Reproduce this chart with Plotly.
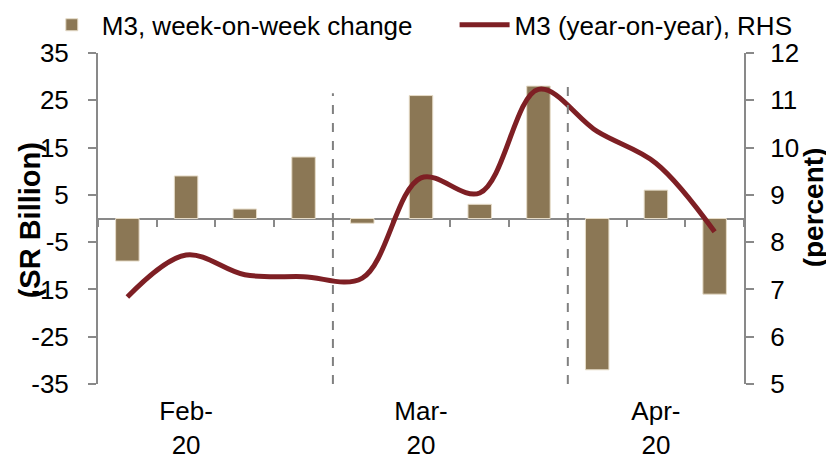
import plotly.graph_objects as go

# weekly observations, Feb-20 .. Apr-20
weeks = list(range(1, 12))
wow_change = [-9, 9, 2, 13, -1, 26, 3, 28, -32, 6, -16]          # SR billion
yoy_growth = [6.84, 7.73, 7.31, 7.27, 7.24, 9.36, 9.04, 11.23, 10.34, 9.67, 8.22]  # percent

month_ticks = [2, 6, 10]
month_labels = ["Feb-<br>20", "Mar-<br>20", "Apr-<br>20"]
month_breaks = [4.5, 8.5]
break_tops = [26.5, 28.2]

left_ticks = list(range(-35, 36, 10))
right_ticks = list(range(5, 13))

BAR = "#8B7755"
LINE = "#7E1F24"
AXIS = "#898989"
FONT = "Liberation Sans, Arial, sans-serif"

fig = go.Figure()

fig.add_trace(go.Bar(
    x=weeks, y=wow_change,
    name="M3, week-on-week change",
    marker=dict(color=BAR, line=dict(color="#E6DCC8", width=1)),
    width=0.4,
    legend="legend",
))

fig.add_trace(go.Scatter(
    x=weeks, y=yoy_growth,
    name="M3 (year-on-year), RHS",
    yaxis="y2",
    mode="lines",
    line=dict(color=LINE, width=5, shape="spline", smoothing=1),
    legend="legend2",
))

# helper trace so the zero-line category axis gets drawn
fig.add_trace(go.Scatter(
    x=[weeks[0]], y=[0], xaxis="x2", mode="markers",
    marker=dict(opacity=0), showlegend=False, hoverinfo="skip",
))

for xb, top in zip(month_breaks, break_tops):
    fig.add_shape(type="line", xref="x", yref="y",
                  x0=xb, x1=xb, y0=-35, y1=top,
                  line=dict(color="#808080", width=2, dash="dash"))

fig.add_annotation(text="<b>(SR Billion)</b>", textangle=-90,
                   xref="paper", yref="paper", x=-0.105, y=0.495,
                   xanchor="center", yanchor="middle",
                   showarrow=False, font=dict(size=29, color="black"))
fig.add_annotation(text="<b>(percent)</b>", textangle=-90,
                   xref="paper", yref="paper", x=1.108, y=0.533,
                   xanchor="center", yanchor="middle",
                   showarrow=False, font=dict(size=28, color="black"))

legend_style = dict(orientation="h", xanchor="left", y=1.085, yanchor="middle",
                    itemwidth=50, font=dict(size=26), bgcolor="rgba(0,0,0,0)")

# the page body has an 8px margin, so the figure is sized to fit the window
fig.update_layout(
    width=826, height=451,
    margin=dict(l=90, r=90, t=45, b=75, autoexpand=False),
    paper_bgcolor="white", plot_bgcolor="white",
    font=dict(family=FONT, size=26, color="black"),
    showlegend=True,
    legend=dict(x=-0.087, **legend_style),
    legend2=dict(x=0.552, **legend_style),
    xaxis=dict(range=[0.5, 11.5], tickvals=month_ticks, ticktext=month_labels,
               showline=False, showgrid=False, zeroline=False, ticks="",
               ticklabelstandoff=9),
    xaxis2=dict(range=[0.5, 11.5], overlaying="x", anchor="free", position=0.5,
                tickvals=[w + 0.5 for w in [0] + weeks], showticklabels=False,
                ticks="outside", ticklen=7, tickwidth=2, tickcolor=AXIS,
                showline=True, linecolor=AXIS, linewidth=2,
                showgrid=False, zeroline=False, layer="below traces"),
    yaxis=dict(range=[-35, 35], tickvals=left_ticks,
               ticktext=[str(v) for v in left_ticks],
               showline=True, linecolor=AXIS, linewidth=2,
               ticks="outside", ticklen=8, tickwidth=2, tickcolor=AXIS,
               showgrid=False, zeroline=False, ticklabelstandoff=14),
    yaxis2=dict(range=[5, 12], tickvals=right_ticks,
                ticktext=[str(v) for v in right_ticks],
                overlaying="y", side="right",
                showline=True, linecolor=AXIS, linewidth=2,
                ticks="outside", ticklen=8, tickwidth=2, tickcolor=AXIS,
                showgrid=False, zeroline=False, ticklabelstandoff=11),
)

fig.write_html("out.html")
